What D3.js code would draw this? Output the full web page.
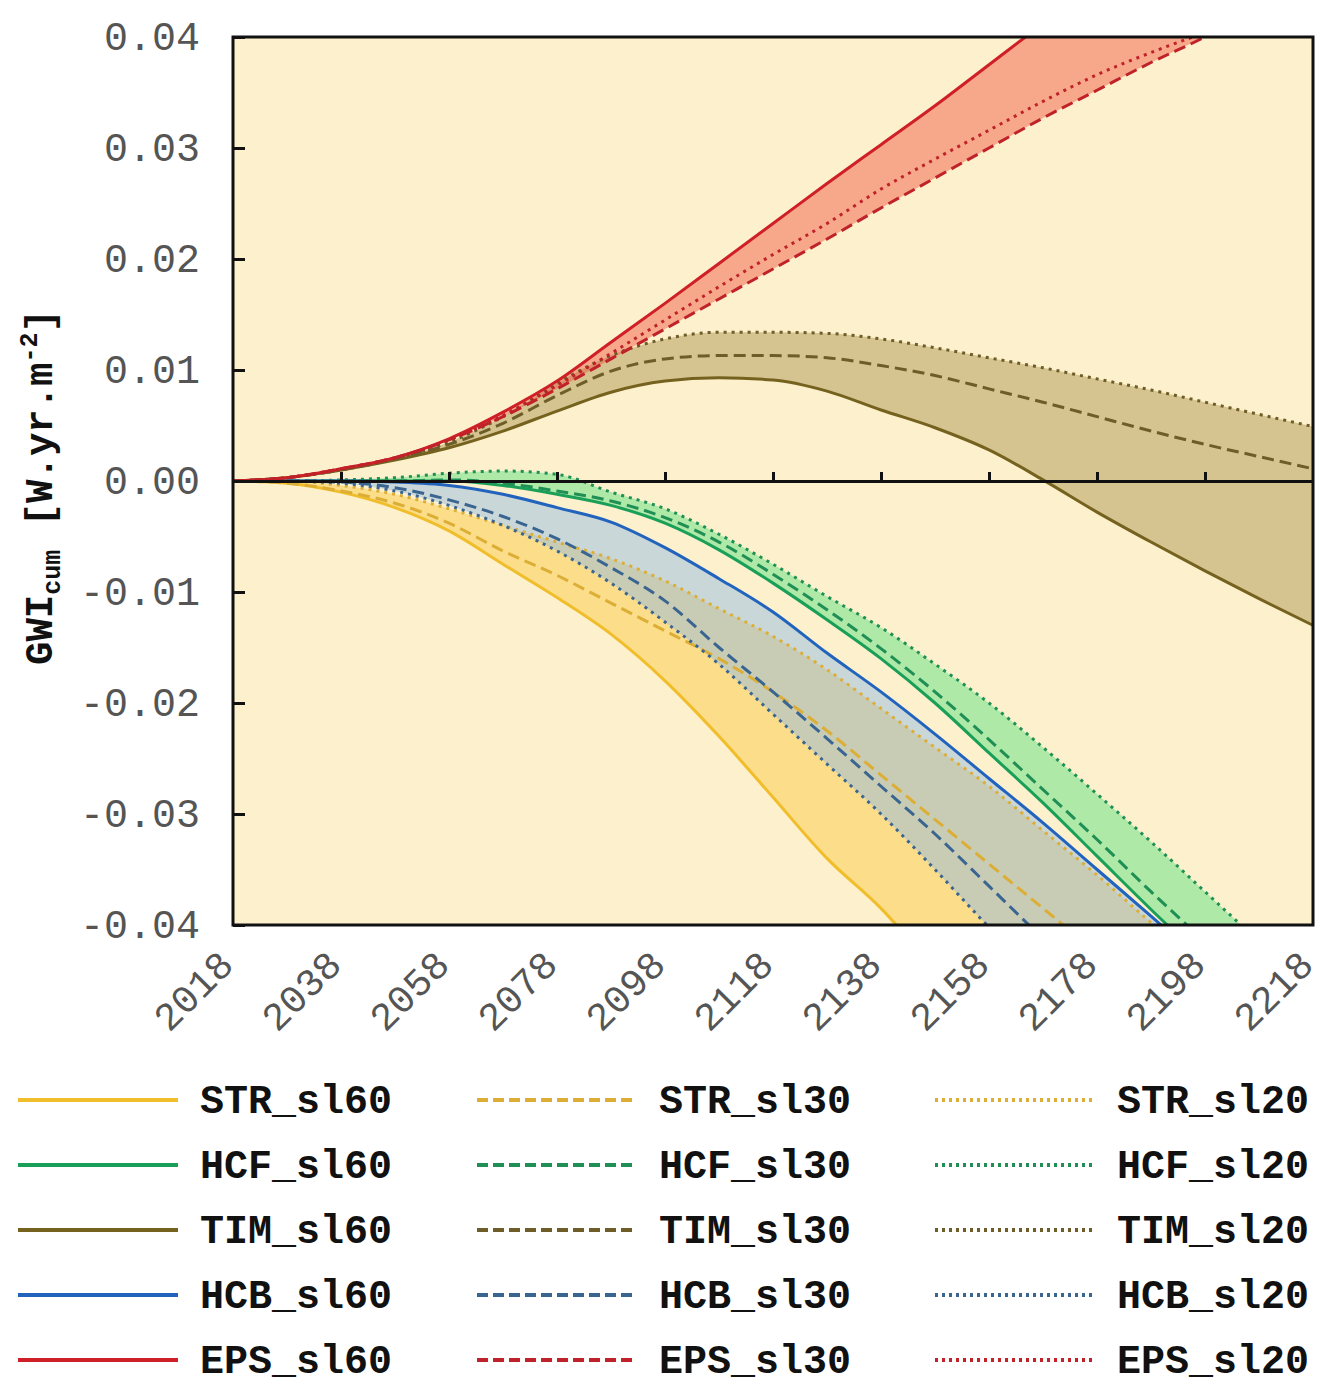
<!DOCTYPE html>
<html>
<head>
<meta charset="utf-8">
<script src="https://cdn.jsdelivr.net/npm/d3@7"></script>
<style>
  body { margin: 0; background: #fff; }
  svg { display: block; }
  .tick text { font-family: "Liberation Mono", "Courier New", monospace; }
</style>
</head>
<body>
<div class="visuals"></div>
<script>
// years sampled every 10 yrs, values in W.yr.m-2
var years = [2018, 2028, 2038, 2048, 2058, 2068, 2078, 2088, 2098, 2108, 2118,
             2128, 2138, 2148, 2158, 2168, 2178, 2188, 2198, 2208, 2218];

var xTicks = [2018, 2038, 2058, 2078, 2098, 2118, 2138, 2158, 2178, 2198, 2218];
var yTicks = [-0.04, -0.03, -0.02, -0.01, 0, 0.01, 0.02, 0.03, 0.04];

var models = ["STR", "HCF", "TIM", "HCB", "EPS"];
var scenarios = ["sl60", "sl30", "sl20"];

var STR_sl60 = [0, -0.0002, -0.0010, -0.0024, -0.0045, -0.0075, -0.0105, -0.0138, -0.0180, -0.0230, -0.0285,
                -0.0340, -0.0385, -0.0440, -0.0495, -0.0550, -0.0605, -0.0660, -0.0715, -0.0770, -0.0825];
var STR_sl30 = [0, -0.0002, -0.0009, -0.0020, -0.0038, -0.0063, -0.0085, -0.0110, -0.0135, -0.0160, -0.0190,
                -0.0225, -0.0265, -0.0305, -0.0345, -0.0385, -0.0425, -0.0465, -0.0505, -0.0545, -0.0585];
var STR_sl20 = [0, 0, -0.0004, -0.0012, -0.0025, -0.0040, -0.0055, -0.0070, -0.0090, -0.0115, -0.0140,
                -0.0170, -0.0205, -0.0240, -0.0275, -0.0315, -0.0355, -0.0398, -0.0440, -0.0485, -0.0530];

var HCF_sl60 = [0, 0, 0, 0, 0, -0.0004, -0.0012, -0.0022, -0.0038, -0.0062, -0.0092,
                -0.0125, -0.0160, -0.0200, -0.0245, -0.0290, -0.0338, -0.0386, -0.0432, -0.0478, -0.0524];
var HCF_sl30 = [0, 0, 0, 0, 0.0001, -0.0002, -0.0009, -0.0018, -0.0033, -0.0055, -0.0084,
                -0.0116, -0.0151, -0.0190, -0.0233, -0.0278, -0.0323, -0.0370, -0.0415, -0.0460, -0.0505];
var HCF_sl20 = [0, 0, 0.0001, 0.0003, 0.0007, 0.0009, 0.0006, -0.0010, -0.0025, -0.0048, -0.0075,
                -0.0104, -0.0132, -0.0165, -0.0200, -0.0240, -0.0282, -0.0325, -0.0370, -0.0415, -0.0460];

var TIM_sl60 = [0, 0.0003, 0.0010, 0.0019, 0.0030, 0.0045, 0.0063, 0.0080, 0.0090, 0.0093, 0.0091,
                0.0081, 0.0064, 0.0048, 0.0028, 0.0001, -0.0028, -0.0055, -0.0081, -0.0106, -0.0130];
var TIM_sl30 = [0, 0.0003, 0.0010, 0.0020, 0.0033, 0.0052, 0.0077, 0.0099, 0.0110, 0.0113, 0.0113,
                0.0111, 0.0104, 0.0095, 0.0083, 0.0071, 0.0058, 0.0045, 0.0033, 0.0022, 0.0011];
var TIM_sl20 = [0, 0.0003, 0.0010, 0.0020, 0.0035, 0.0058, 0.0088, 0.0113, 0.0128, 0.0134, 0.0134,
                0.0133, 0.0128, 0.0120, 0.0111, 0.0102, 0.0092, 0.0082, 0.0071, 0.0060, 0.0049];

var HCB_sl60 = [0, 0, 0, -0.0001, -0.0004, -0.0012, -0.0024, -0.0037, -0.0060, -0.0088, -0.0118,
                -0.0155, -0.0190, -0.0228, -0.0268, -0.0308, -0.0350, -0.0392, -0.0435, -0.0478, -0.0521];
var HCB_sl30 = [0, 0, -0.0001, -0.0006, -0.0017, -0.0032, -0.0052, -0.0078, -0.0108, -0.0150, -0.0190,
                -0.0232, -0.0275, -0.0318, -0.0365, -0.0412, -0.0455, -0.0498, -0.0541, -0.0584, -0.0627];
var HCB_sl20 = [0, 0, -0.0002, -0.0009, -0.0022, -0.0040, -0.0063, -0.0092, -0.0127, -0.0165, -0.0210,
                -0.0255, -0.0300, -0.0350, -0.0402, -0.0450, -0.0498, -0.0546, -0.0594, -0.0642, -0.0690];

var EPS_sl60 = [0, 0.0003, 0.0011, 0.0021, 0.0038, 0.0062, 0.0090, 0.0125, 0.0160, 0.0196, 0.0232,
                0.0268, 0.0303, 0.0338, 0.0375, 0.0412, 0.0448, 0.0485, 0.0521, 0.0557, 0.0593];
var EPS_sl30 = [0, 0.0003, 0.0011, 0.0021, 0.0037, 0.0058, 0.0083, 0.0110, 0.0137, 0.0164, 0.0191,
                0.0218, 0.0246, 0.0273, 0.0300, 0.0327, 0.0352, 0.0377, 0.0400, 0.0426, 0.0451];
var EPS_sl20 = [0, 0.0003, 0.0011, 0.0021, 0.0037, 0.0059, 0.0086, 0.0115, 0.0145, 0.0175, 0.0204,
                0.0232, 0.0263, 0.0290, 0.0316, 0.0342, 0.0366, 0.0386, 0.0404, 0.0422, 0.0440];

var seriesValues = {
  STR: [STR_sl60, STR_sl30, STR_sl20],
  HCF: [HCF_sl60, HCF_sl30, HCF_sl20],
  TIM: [TIM_sl60, TIM_sl30, TIM_sl20],
  HCB: [HCB_sl60, HCB_sl30, HCB_sl20],
  EPS: [EPS_sl60, EPS_sl30, EPS_sl20]
};

var lineColor = { STR: "#f0bd2b", HCF: "#1a9f58", TIM: "#76621f", HCB: "#2264bd", EPS: "#cf1f27" };
var dashColor = { STR: "#dcae35", HCF: "#1f8f55", TIM: "#6d5d28", HCB: "#3a6591", EPS: "#c0222a" };
var bandColor = { STR: "#f9c53a", HCF: "#4fe07a", TIM: "#9c8236", HCB: "#8bb8e8", EPS: "#f0503c" };
var bandOpacity = { STR: 0.45, HCF: 0.45, TIM: 0.4, HCB: 0.45, EPS: 0.45 };
var dashes = ["none", "12,6", "3,5"];

var Chart = (function(){
  return function(selector){
    var W = 1323, H = 1395;
    var left = 233, right = 1313, top = 37, bottom = 925;
    var font = '"Liberation Mono", "Courier New", monospace';

    var svg = d3.select(selector).append("svg")
      .attr("width", W).attr("height", H);

    var x = d3.scaleLinear().domain([2018, 2218]).range([left, right]);
    var y = d3.scaleLinear().domain([-0.04, 0.04]).range([bottom, top]);

    svg.append("defs").append("clipPath").attr("id", "plotclip")
      .append("rect")
        .attr("x", left).attr("y", top)
        .attr("width", right - left).attr("height", bottom - top);

    svg.append("rect")
      .attr("x", left).attr("y", top)
      .attr("width", right - left).attr("height", bottom - top)
      .style("fill", "#fdf0cc");

    var plot = svg.append("g").attr("clip-path", "url(#plotclip)");

    var band = d3.area()
      .x(function(d){ return x(d.year); })
      .y0(function(d){ return y(d.lo); })
      .y1(function(d){ return y(d.hi); })
      .curve(d3.curveMonotoneX);

    var line = d3.line()
      .x(function(d){ return x(d.year); })
      .y(function(d){ return y(d.v); })
      .curve(d3.curveMonotoneX);

    // bands between min and max of the three scenarios
    models.forEach(function(m){
      var s = seriesValues[m];
      var rows = years.map(function(yr, i){
        var vals = [s[0][i], s[1][i], s[2][i]];
        return { year: yr, lo: d3.min(vals), hi: d3.max(vals) };
      });
      plot.append("path")
        .attr("d", band(rows))
        .style("fill", bandColor[m])
        .style("fill-opacity", bandOpacity[m])
        .style("stroke", "none");
    });

    // zero line with ticks pointing up
    var zeroAxis = d3.axisTop(x).tickValues(xTicks.slice(1, -1))
      .tickSize(9).tickSizeOuter(0).tickFormat("");
    var za = svg.append("g")
      .attr("transform", "translate(0," + y(0) + ")")
      .call(zeroAxis);
    za.select(".domain").style("stroke", "#111").style("stroke-width", 3);
    za.selectAll(".tick line").style("stroke", "#111").style("stroke-width", 3);

    models.forEach(function(m){
      scenarios.forEach(function(sc, k){
        var pts = years.map(function(yr, i){ return { year: yr, v: seriesValues[m][k][i] }; });
        plot.append("path")
          .attr("d", line(pts))
          .style("fill", "none")
          .style("stroke", k === 0 ? lineColor[m] : dashColor[m])
          .style("stroke-width", 3)
          .style("stroke-dasharray", dashes[k]);
      });
    });

    // frame
    svg.append("rect")
      .attr("x", left).attr("y", top)
      .attr("width", right - left).attr("height", bottom - top)
      .style("fill", "none").style("stroke", "#111").style("stroke-width", 3);

    var yAxis = d3.axisLeft(y).tickValues(yTicks)
      .tickSize(-12).tickSizeOuter(0).tickPadding(33)
      .tickFormat(d3.format(".2f"));
    var ya = svg.append("g").attr("transform", "translate(" + left + ",0)").call(yAxis);
    ya.select(".domain").remove();
    ya.selectAll(".tick line").style("stroke", "#111").style("stroke-width", 3);
    ya.selectAll(".tick text")
      .text(function(d){ return d3.format(".2f")(d).replace("−", "-"); })
      .style("font-size", "40px").style("fill", "#555");

    var xAxis = d3.axisBottom(x).tickValues(xTicks).tickSize(0).tickFormat(d3.format("d"));
    var xa = svg.append("g").attr("transform", "translate(0," + bottom + ")").call(xAxis);
    xa.select(".domain").remove();
    xa.selectAll(".tick text")
      .attr("y", 0).attr("dy", 0)
      .attr("transform", "translate(2,42) rotate(-45)")
      .style("text-anchor", "end")
      .style("font-size", "39px").style("fill", "#555");

    // y axis label
    var yl = svg.append("text")
      .attr("transform", "translate(52,487) rotate(-90)")
      .attr("text-anchor", "middle")
      .style("font-family", font).style("font-weight", "bold")
      .style("font-size", "39px").style("fill", "#111");
    yl.append("tspan").text("GWI");
    yl.append("tspan").text("cum").attr("dy", 8).style("font-size", "25px");
    yl.append("tspan").text(" [W.yr.m").attr("dy", -8);
    yl.append("tspan").text("-2").attr("dy", -15).style("font-size", "25px");
    yl.append("tspan").text("]").attr("dy", 15);

    // legend: columns = scenarios, rows = models
    var legend = svg.append("g");
    var colX = [18, 477, 935];
    scenarios.forEach(function(sc, k){
      models.forEach(function(m, r){
        var ly = 1100 + r * 65;
        legend.append("line")
          .attr("x1", colX[k]).attr("x2", colX[k] + 160)
          .attr("y1", ly).attr("y2", ly)
          .style("stroke", k === 0 ? lineColor[m] : dashColor[m])
          .style("stroke-width", 4)
          .style("stroke-dasharray", k === 1 ? "11,5" : (k === 2 ? "3,4" : "none"));
        legend.append("text")
          .attr("x", colX[k] + 182).attr("y", ly + 13)
          .text(m + "_" + sc)
          .style("font-family", font).style("font-weight", "bold")
          .style("font-size", "40px").style("fill", "#111");
      });
    });
  };
}());

document.addEventListener('DOMContentLoaded', function () {
  var chart = new Chart('.visuals');
});
</script>
</body>
</html>
